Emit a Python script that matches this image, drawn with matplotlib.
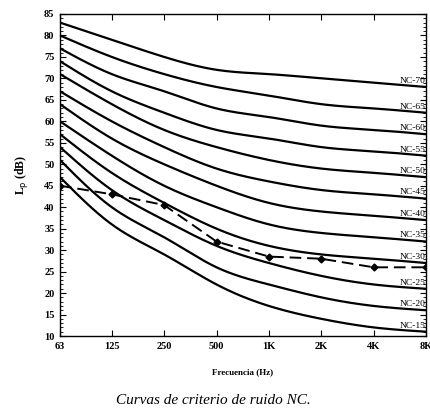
import numpy as np
import matplotlib
matplotlib.use("Agg")
import matplotlib.pyplot as plt
from matplotlib.ticker import MultipleLocator

freqs = [63, 125, 250, 500, 1000, 2000, 4000, 8000]
freq_labels = ["63", "125", "250", "500", "1K", "2K", "4K", "8K"]

nc_15 = [47, 36, 29, 22, 17, 14, 12, 11]
nc_20 = [51, 40, 33, 26, 22, 19, 17, 16]
nc_25 = [54, 44, 37, 31, 27, 24, 22, 21]
nc_30 = [57, 48, 41, 35, 31, 29, 28, 27]
nc_35 = [60, 52, 45, 40, 36, 34, 33, 32]
nc_40 = [64, 56, 50, 45, 41, 39, 38, 37]
nc_45 = [67, 60, 54, 49, 46, 44, 43, 42]
nc_50 = [71, 64, 58, 54, 51, 49, 48, 47]
nc_55 = [74, 67, 62, 58, 56, 54, 53, 52]
nc_60 = [77, 71, 67, 63, 61, 59, 58, 57]
nc_65 = [80, 75, 71, 68, 66, 64, 63, 62]
nc_70 = [83, 79, 75, 72, 71, 70, 69, 68]

nc_names = ["NC-15", "NC-20", "NC-25", "NC-30", "NC-35", "NC-40",
            "NC-45", "NC-50", "NC-55", "NC-60", "NC-65", "NC-70"]
nc_curves = [nc_15, nc_20, nc_25, nc_30, nc_35, nc_40,
             nc_45, nc_50, nc_55, nc_60, nc_65, nc_70]

measured = [45, 43, 40.5, 32, 28.5, 28, 26, 26]


def natural_spline(x, y, xs):
    x = np.asarray(x, float); y = np.asarray(y, float)
    n = len(x); h = np.diff(x)
    A = np.zeros((n, n)); b = np.zeros(n)
    A[0, 0] = 1; A[-1, -1] = 1
    for i in range(1, n - 1):
        A[i, i - 1] = h[i - 1]; A[i, i] = 2 * (h[i - 1] + h[i]); A[i, i + 1] = h[i]
        b[i] = 6 * ((y[i + 1] - y[i]) / h[i] - (y[i] - y[i - 1]) / h[i - 1])
    M = np.linalg.solve(A, b)
    out = np.empty_like(xs)
    for j, xv in enumerate(xs):
        k = int(np.clip(np.searchsorted(x, xv, side="right") - 1, 0, n - 2))
        t1 = x[k + 1] - xv; t0 = xv - x[k]; hk = h[k]
        out[j] = (M[k] * t1**3 + M[k + 1] * t0**3) / (6 * hk) \
            + (y[k] / hk - M[k] * hk / 6) * t1 + (y[k + 1] / hk - M[k + 1] * hk / 6) * t0
    return out


serif = "Liberation Serif"
fig = plt.figure(figsize=(4.31, 4.12), dpi=100)
ax = fig.add_axes([60 / 431, 1 - 336 / 412, (426 - 60) / 431, (336 - 14) / 412])

xpos = np.log2(np.array(freqs) / 63.0)
xs = np.linspace(xpos[0], xpos[-1], 400)
for name, vals in zip(nc_names, nc_curves):
    ys = natural_spline(xpos, vals, xs)
    ax.plot(xs, ys, color="black", lw=1.6, solid_capstyle="butt")
    ax.text(xpos[-1] - 0.01, vals[-1] + 0.5, name, ha="right", va="bottom",
            fontsize=6.8, family=serif, color="black")

ax.plot(xpos, measured, color="black", lw=1.4, ls=(0, (6, 3)),
        marker="D", markersize=3.5, markerfacecolor="black")

ax.set_xlim(xpos[0], xpos[-1])
ax.set_ylim(10, 85)
ax.set_xticks(xpos)
ax.set_xticklabels(freq_labels)
ax.yaxis.set_major_locator(MultipleLocator(5))
ax.yaxis.set_minor_locator(MultipleLocator(1))
ax.tick_params(axis="both", which="both", direction="in", top=True, right=True)
ax.tick_params(axis="both", which="major", length=4, width=0.8, pad=4)
ax.tick_params(axis="y", which="minor", length=2, width=0.6)
for lab in ax.get_xticklabels() + ax.get_yticklabels():
    lab.set_family(serif)
    lab.set_fontweight("bold")
    lab.set_fontsize(7.5)
for s in ax.spines.values():
    s.set_linewidth(1.0)

ax.set_ylabel("L$_\\mathrm{p}$ (dB)", family=serif, fontweight="bold", fontsize=8.5, labelpad=10)
ax.set_xlabel("Frecuencia (Hz)", family=serif, fontweight="bold", fontsize=6.5, labelpad=13)

fig.text(0.495, 1 - 400 / 412, "Curvas de criterio de ruido NC.", ha="center", va="center",
         family=serif, style="italic", fontsize=11)

fig.savefig("out.png", dpi=100)
